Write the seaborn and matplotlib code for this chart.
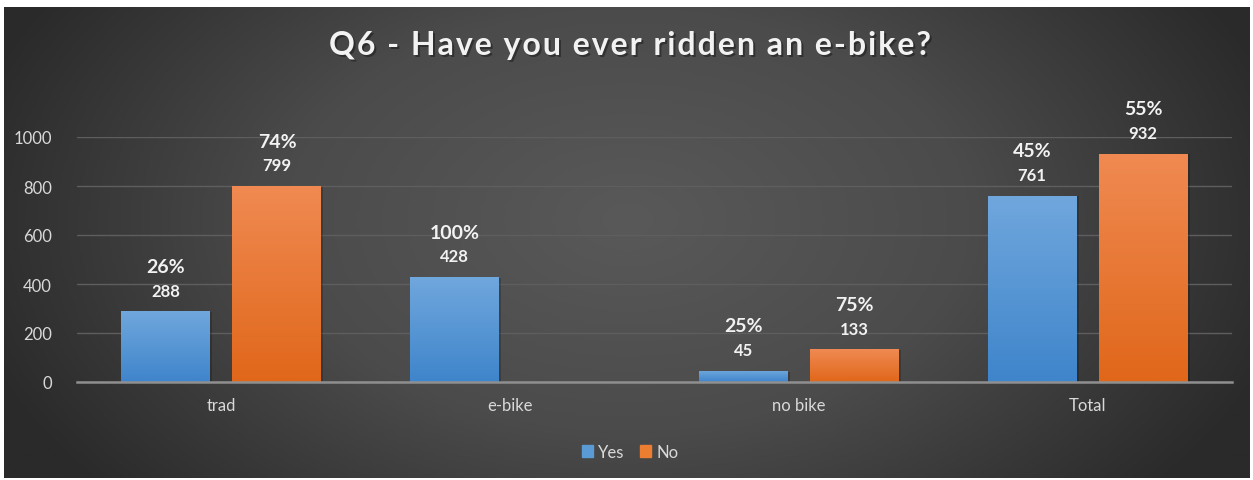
import numpy as np
import pandas as pd
import matplotlib
matplotlib.use("Agg")
import matplotlib.pyplot as plt
import seaborn as sns
from matplotlib.colors import LinearSegmentedColormap

categories = ["trad", "e-bike", "no bike", "Total"]
yes_values = [288, 428, 45, 761]
no_values = [799, 0, 133, 932]
yes_pct = ["26%", "100%", "25%", "45%"]
no_pct = ["74%", "", "75%", "55%"]
series = ["Yes", "No"]
title = "Q6 - Have you ever ridden an e-bike?"
yticks = [0, 200, 400, 600, 800, 1000]

sns.set_theme(style="white")
FONT = ["Lato", "DejaVu Sans"]
plt.rcParams["font.family"] = FONT

W, H, DPI = 1253, 481, 100
fig = plt.figure(figsize=(W / DPI, H / DPI), dpi=DPI, facecolor="white")

# radial-ish background gradient
bg = fig.add_axes([4 / W, 2 / H, 1246 / W, 471 / H])
bg.set_axis_off()
ny, nx = 240, 600
yy, xx = np.mgrid[0:ny, 0:nx]
cx, cy = nx * 0.5, ny * 0.45
d = np.sqrt(((xx - cx) / (nx * 0.55)) ** 2 + ((yy - cy) / (ny * 0.9)) ** 2)
d = np.clip(d, 0, 1)
bgcmap = LinearSegmentedColormap.from_list("bg", ["#595959", "#4b4b4b", "#2a2a2a"])
bg.imshow(d, cmap=bgcmap, aspect="auto", extent=[0, 1, 0, 1], vmin=0, vmax=1)
bg.set_xlim(0, 1)
bg.set_ylim(0, 1)

ax = fig.add_axes([77 / W, 1 - 383 / H, (1232 - 77) / W, (383 - 138) / H])
ax.set_facecolor("none")

df = pd.DataFrame({
    "category": categories * 2,
    "value": yes_values + no_values,
    "series": ["Yes"] * len(categories) + ["No"] * len(categories),
})
palette = {"Yes": "#5b9bd5", "No": "#ed7d31"}
sns.barplot(data=df, x="category", y="value", hue="series", hue_order=series,
            order=categories, palette=palette, width=0.77, gap=0.2,
            ax=ax, zorder=3, linewidth=0, saturation=1)

ax.set_ylim(0, 1000)
ax.set_xlim(-0.5, len(categories) - 0.5)

grads = {
    "Yes": LinearSegmentedColormap.from_list("gy", ["#3f85cb", "#70a7dd"]),
    "No": LinearSegmentedColormap.from_list("go", ["#e0671a", "#f08a52"]),
}
grad = np.linspace(0, 1, 100).reshape(-1, 1)
labels_pct = {"Yes": yes_pct, "No": no_pct}
for si, s in enumerate(series):
    cont = ax.containers[si]
    vals = yes_values if s == "Yes" else no_values
    for ci, p in enumerate(cont.patches):
        h = p.get_height()
        if h <= 0:
            continue
        x0, w = p.get_x(), p.get_width()
        # subtle shadow
        ax.bar(x0 + w / 2 + 0.004, h, width=w + 0.006, bottom=-3, color="black", alpha=0.2,
               zorder=2, linewidth=0)
        im = ax.imshow(grad, cmap=grads[s], aspect="auto", origin="lower",
                       extent=[x0, x0 + w, 0, h], zorder=4)
        im.set_clip_path(p)
        cx_ = x0 + w / 2
        ax.annotate(str(vals[ci]), (cx_, h), xytext=(0, 15), textcoords="offset points",
                    ha="center", va="center", color="#f2f2f2", fontsize=12,
                    fontweight="bold", annotation_clip=False, zorder=6)
        ax.annotate(labels_pct[s][ci], (cx_, h), xytext=(0, 32.5), textcoords="offset points",
                    ha="center", va="center", color="#f2f2f2", fontsize=14,
                    fontweight="bold", annotation_clip=False, zorder=6)

ax.set_ylim(0, 1000)
ax.set_xlim(-0.5, len(categories) - 0.5)
ax.set_yticks(yticks)
ax.set_yticklabels([str(v) for v in yticks])
ax.yaxis.grid(True, color="#5e5e5e", linewidth=1, zorder=0)
ax.set_axisbelow(True)
for sp in ["top", "right", "left"]:
    ax.spines[sp].set_visible(False)
ax.spines["bottom"].set_color("#8f8f8f")
ax.spines["bottom"].set_linewidth(1.8)
ax.spines["bottom"].set_zorder(5)
ax.tick_params(axis="both", length=0, colors="#d9d9d9", labelsize=12)
ax.tick_params(axis="x", pad=11)
ax.tick_params(axis="y", pad=18)
for t in ax.get_yticklabels():
    t.set_horizontalalignment("right")
ax.set_xlabel("")
ax.set_ylabel("")

leg = ax.get_legend()
if leg is not None:
    leg.remove()
handles = [plt.Rectangle((0, 0), 1, 1, color=palette[s]) for s in series]
fig.legend(handles, series, loc="center", bbox_to_anchor=(630 / W, 1 - 453 / H),
           ncol=2, frameon=False, handlelength=0.7, handleheight=0.7,
           handletextpad=0.3, columnspacing=0.9, fontsize=12,
           labelcolor="#d9d9d9")

# title, letter-spaced, with shadow
spaced = "\u200a".join(title)
fig.text(630 / W + 0.0015, 1 - 46 / H - 0.004, spaced, ha="center", va="center",
         fontsize=23, fontweight="bold", color="black", alpha=0.35, family=FONT)
fig.text(630 / W, 1 - 46 / H, spaced, ha="center", va="center",
         fontsize=23, fontweight="bold", color="#f2f2f2", family=FONT)

fig.savefig("out.png", dpi=DPI, facecolor="white")
